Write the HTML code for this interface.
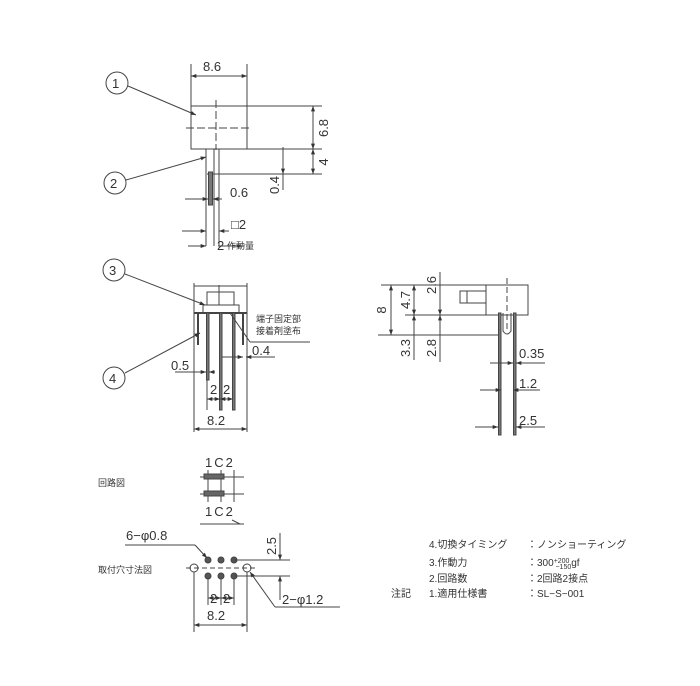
<!DOCTYPE html>
<html><head><meta charset="utf-8"><style>
html,body{margin:0;padding:0;background:#fff;}
svg{display:block;}
text{font-family:"Liberation Sans","Noto Sans CJK JP",sans-serif;fill:#333;}
</style></head><body>
<svg width="700" height="686" viewBox="0 0 700 686" xmlns="http://www.w3.org/2000/svg">
<defs>
<marker id="a" viewBox="0 0 8 6" refX="8" refY="3" markerWidth="6" markerHeight="4" orient="auto-start-reverse"><path d="M0,0L8,3L0,6z" fill="#333"/></marker>
</defs>
<g stroke="#444" stroke-width="1" fill="none">
<!-- TOP VIEW -->
<line x1="191" y1="64" x2="191" y2="149"/><line x1="247" y1="64" x2="247" y2="106"/>
<line x1="191" y1="76" x2="247" y2="76" marker-start="url(#a)" marker-end="url(#a)"/>
<rect x="191" y="106" width="56" height="43"/>
<line x1="247" y1="106" x2="322" y2="106"/><line x1="247" y1="149" x2="322" y2="149"/>
<line x1="207" y1="174" x2="322" y2="174"/>
<line x1="313" y1="106" x2="313" y2="149" marker-start="url(#a)" marker-end="url(#a)"/>
<line x1="313" y1="149" x2="313" y2="174" marker-start="url(#a)" marker-end="url(#a)"/>
<line x1="283" y1="147" x2="283" y2="174" marker-end="url(#a)"/>
<line x1="283" y1="190" x2="283" y2="174"/>
<line x1="216" y1="100" x2="216" y2="150" stroke-dasharray="8,3"/>
<line x1="186" y1="128" x2="252" y2="128" stroke-dasharray="8,3"/>
<line x1="206" y1="149" x2="206" y2="246"/><line x1="214" y1="149" x2="214" y2="246"/>
<line x1="219" y1="149" x2="219" y2="246"/>
<rect x="208.5" y="172" width="4" height="33" fill="#777" stroke="#444"/>
<line x1="185" y1="199" x2="208" y2="199" marker-end="url(#a)"/><line x1="222" y1="199" x2="213" y2="199" marker-end="url(#a)"/>
<line x1="182" y1="231" x2="206" y2="231" marker-end="url(#a)"/><line x1="229" y1="231" x2="219" y2="231" marker-end="url(#a)"/>
<line x1="188" y1="246" x2="206" y2="246" marker-end="url(#a)"/><line x1="218" y1="246" x2="244" y2="246"/>
<circle cx="117" cy="83" r="11"/><line x1="128" y1="86" x2="196" y2="115" marker-end="url(#a)"/>
<circle cx="115" cy="183" r="11"/><line x1="126" y1="180" x2="206" y2="157" marker-end="url(#a)"/>
<!-- FRONT VIEW -->
<line x1="194" y1="283" x2="194" y2="432"/><line x1="247" y1="283" x2="247" y2="432"/>
<line x1="194" y1="286" x2="247" y2="286"/>
<rect x="207" y="292" width="27" height="13"/>
<line x1="219" y1="285" x2="219" y2="305"/>
<rect x="203" y="305" width="36" height="8" fill="#fff"/>
<line x1="194" y1="313" x2="247" y2="313" stroke-width="2"/>
<line x1="198" y1="313" x2="198" y2="345" stroke-width="2"/><line x1="243" y1="313" x2="243" y2="345" stroke-width="2"/>
<rect x="206.5" y="313" width="2.5" height="67" fill="#777"/>
<rect x="219.5" y="313" width="2.5" height="97" fill="#777"/>
<rect x="232.5" y="313" width="2.5" height="97" fill="#777"/>
<line x1="207" y1="380" x2="207" y2="410"/>
<line x1="194" y1="429" x2="247" y2="429" marker-start="url(#a)" marker-end="url(#a)"/>
<line x1="207" y1="399" x2="220" y2="399" marker-start="url(#a)" marker-end="url(#a)"/>
<line x1="220" y1="399" x2="233" y2="399" marker-start="url(#a)" marker-end="url(#a)"/>
<line x1="175" y1="372" x2="206" y2="372" marker-end="url(#a)"/><line x1="215" y1="372" x2="209" y2="372" marker-end="url(#a)"/>
<line x1="222" y1="357" x2="243" y2="357" marker-end="url(#a)"/><line x1="275" y1="357" x2="246" y2="357" marker-end="url(#a)"/>
<line x1="230" y1="313" x2="250" y2="342"/><line x1="250" y1="342" x2="310" y2="342"/>
<circle cx="114" cy="270" r="11"/><line x1="125" y1="274" x2="205" y2="305" marker-end="url(#a)"/>
<circle cx="114" cy="378" r="11"/><line x1="125" y1="373" x2="200" y2="333" marker-end="url(#a)"/>
<!-- SIDE VIEW -->
<line x1="381" y1="285" x2="528" y2="285"/>
<rect x="486" y="285" width="42" height="30"/>
<rect x="460" y="291" width="26" height="12"/><line x1="467" y1="291" x2="467" y2="303"/>
<line x1="405" y1="315" x2="486" y2="315"/>
<line x1="378" y1="335" x2="498" y2="335"/>
<line x1="507" y1="278" x2="507" y2="330" stroke-dasharray="6,3"/>
<rect x="498.5" y="313" width="2.5" height="122" fill="#777"/>
<rect x="513.5" y="313" width="2.5" height="122" fill="#777"/>
<path d="M503 313 v18 q4 6 8 0 v-18"/>
<line x1="391" y1="285" x2="391" y2="335" marker-start="url(#a)" marker-end="url(#a)"/>
<line x1="414" y1="285" x2="414" y2="315" marker-start="url(#a)" marker-end="url(#a)"/>
<line x1="414" y1="315" x2="414" y2="360" marker-start="url(#a)"/>
<line x1="440" y1="272" x2="440" y2="290"/>
<line x1="440" y1="285" x2="440" y2="315" marker-end="url(#a)"/>
<line x1="440" y1="315" x2="440" y2="362" marker-start="url(#a)"/>
<line x1="490" y1="363" x2="513" y2="363" marker-end="url(#a)"/><line x1="545" y1="363" x2="516" y2="363" marker-end="url(#a)"/>
<line x1="480" y1="390" x2="501" y2="390" marker-end="url(#a)"/><line x1="540" y1="390" x2="513" y2="390" marker-end="url(#a)"/>
<line x1="475" y1="427" x2="498" y2="427" marker-end="url(#a)"/><line x1="545" y1="427" x2="516" y2="427" marker-end="url(#a)"/>
<!-- CIRCUIT -->
<line x1="200" y1="477" x2="244" y2="477"/><line x1="200" y1="494" x2="244" y2="494"/>
<line x1="208" y1="470" x2="208" y2="502"/><line x1="221" y1="470" x2="221" y2="502"/><line x1="234" y1="470" x2="234" y2="502"/>
<rect x="204" y="474" width="20" height="5" fill="#666"/><rect x="204" y="491" width="20" height="5" fill="#666"/>
<line x1="200" y1="524" x2="240" y2="524"/><path d="M232 520 L240 524 L244 524"/>
<!-- MOUNTING -->
<circle cx="194" cy="568" r="4"/><circle cx="247" cy="568" r="4"/>
<circle cx="208" cy="560" r="3" fill="#555"/><circle cx="221" cy="560" r="3" fill="#555"/><circle cx="234" cy="560" r="3" fill="#555"/>
<circle cx="208" cy="576" r="3" fill="#555"/><circle cx="221" cy="576" r="3" fill="#555"/><circle cx="234" cy="576" r="3" fill="#555"/>
<line x1="186" y1="568" x2="255" y2="568" stroke-dasharray="5,3"/>
<line x1="194" y1="572" x2="194" y2="632"/><line x1="247" y1="572" x2="247" y2="632"/>
<line x1="208" y1="579" x2="208" y2="605"/><line x1="221" y1="579" x2="221" y2="605"/><line x1="234" y1="579" x2="234" y2="605"/>
<line x1="234" y1="560" x2="290" y2="560"/><line x1="234" y1="576" x2="290" y2="576"/>
<line x1="280" y1="533" x2="280" y2="560" marker-end="url(#a)"/><line x1="280" y1="600" x2="280" y2="576" marker-end="url(#a)"/>
<line x1="208" y1="598" x2="221" y2="598" marker-start="url(#a)" marker-end="url(#a)"/>
<line x1="221" y1="598" x2="234" y2="598" marker-start="url(#a)" marker-end="url(#a)"/>
<line x1="194" y1="625" x2="247" y2="625" marker-start="url(#a)" marker-end="url(#a)"/>
<line x1="125" y1="545" x2="195" y2="545"/><line x1="195" y1="545" x2="207" y2="558" marker-end="url(#a)"/>
<line x1="340" y1="607" x2="275" y2="607"/><line x1="275" y1="607" x2="250" y2="572" marker-end="url(#a)"/>
</g>
<g font-size="13">
<text x="203" y="71">8.6</text>
<text transform="translate(328,128) rotate(-90)" text-anchor="middle">6.8</text>
<text transform="translate(328,162) rotate(-90)" text-anchor="middle">4</text>
<text transform="translate(279,185) rotate(-90)" text-anchor="middle">0.4</text>
<text x="230" y="197">0.6</text>
<text x="231" y="229">□2</text>
<text x="217" y="250">2</text>
<text x="227" y="249" font-size="9">作動量</text>
<text x="112" y="88" font-size="13">1</text><text x="110" y="188" font-size="13">2</text>
<text x="109" y="275" font-size="13">3</text><text x="109" y="383" font-size="13">4</text>
<text x="256" y="322" font-size="9">端子固定部</text>
<text x="256" y="334" font-size="9">接着剤塗布</text>
<text x="252" y="355">0.4</text>
<text x="171" y="370">0.5</text>
<text x="210" y="394">2</text><text x="223" y="394">2</text>
<text x="207" y="425">8.2</text>
<text transform="translate(386,310) rotate(-90)" text-anchor="middle">8</text>
<text transform="translate(410,300) rotate(-90)" text-anchor="middle">4.7</text>
<text transform="translate(410,348) rotate(-90)" text-anchor="middle">3.3</text>
<text transform="translate(436,285) rotate(-90)" text-anchor="middle">2.6</text>
<text transform="translate(436,348) rotate(-90)" text-anchor="middle">2.8</text>
<text x="519" y="358">0.35</text>
<text x="519" y="388">1.2</text>
<text x="519" y="425">2.5</text>
<text x="205" y="467" letter-spacing="2">1C2</text>
<text x="205" y="516" letter-spacing="2">1C2</text>
<text x="98" y="486" font-size="9">回路図</text>
<text x="126" y="540">6−φ0.8</text>
<text transform="translate(276,546) rotate(-90)" text-anchor="middle">2.5</text>
<text x="98" y="573" font-size="9">取付穴寸法図</text>
<text x="210" y="603">2</text><text x="223" y="603">2</text>
<text x="207" y="620">8.2</text>
<text x="282" y="604">2−φ1.2</text>
</g>
<g font-size="10">
<text x="429" y="548">4.切換タイミング</text><text x="527" y="548">：ノンショーティング</text>
<text x="429" y="566">3.作動力</text><text x="527" y="566">：300<tspan font-size="7" dy="-3">+200</tspan><tspan font-size="7" dx="-14" dy="6">−150</tspan><tspan dy="-3">gf</tspan></text>
<text x="429" y="582">2.回路数</text><text x="527" y="582">：2回路2接点</text>
<text x="391" y="597">注記</text><text x="429" y="597">1.適用仕様書</text><text x="527" y="597">：SL−S−001</text>
</g>
</svg>
</body></html>
